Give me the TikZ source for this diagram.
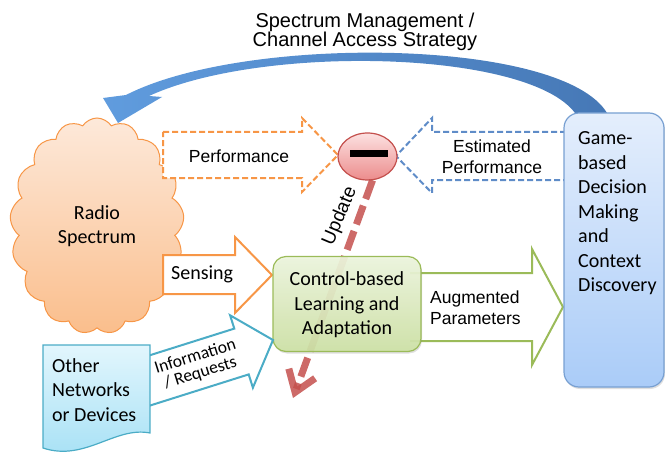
\documentclass[tikz,border=0pt]{standalone}
\usepackage{fontspec}
\setmainfont{Liberation Sans}
\newfontfamily\calf{Carlito}
\usetikzlibrary{shapes.symbols,shapes.geometric,arrows.meta,shadows}
\definecolor{orng}{RGB}{247,150,70}
\definecolor{bdash}{RGB}{95,140,200}
\definecolor{grn}{RGB}{155,187,89}
\definecolor{cyn}{RGB}{75,172,198}
\definecolor{updc}{RGB}{196,80,77}
\definecolor{cloudtop}{RGB}{253,233,218}
\definecolor{cloudbot}{RGB}{250,190,140}
\definecolor{gametop}{RGB}{228,238,252}
\definecolor{gamebot}{RGB}{170,204,248}
\definecolor{gameline}{RGB}{120,160,210}
\definecolor{ctltop}{RGB}{238,246,222}
\definecolor{ctlbot}{RGB}{205,226,165}
\definecolor{doctop}{RGB}{226,246,253}
\definecolor{docbot}{RGB}{165,224,245}
\definecolor{arcleft}{RGB}{96,156,222}
\definecolor{arcright}{RGB}{70,120,182}
\definecolor{circtop}{RGB}{252,225,225}
\definecolor{circbot}{RGB}{236,140,140}
\newcommand\arialtxt{\fontsize{17.5}{21}\selectfont}
\newcommand\titletxt{\fontsize{20}{19}\selectfont}
\newcommand\caltxt{\calf\fontsize{20}{24.5}\selectfont}
\newcommand\infotxt{\calf\fontsize{17.5}{17}\selectfont}
\tikzset{
  blockarrow/.style={fill=white, line width=2pt, line join=miter},
  dasharrow/.style={blockarrow, dash pattern=on 6pt off 3pt},
  lbl/.style={inner sep=0pt, font=\arialtxt, align=center},
  clbl/.style={inner sep=0pt, font=\caltxt},
  updline/.style={draw=updc, draw opacity=0.85, line width=7pt, dash pattern=on 20pt off 7pt},
}
\begin{document}
\begin{tikzpicture}[x=1pt,y=-1pt]
\useasboundingbox (0,0) rectangle (665,452);

% big curved arrow
\path[left color=arcleft, right color=arcright]
  (607,113) .. controls (562,38) and (245,34) .. (126,95)
  -- (103,98) -- (118,123) -- (162,97) -- (149,96)
  .. controls (262,44) and (528,50) .. (575,113) -- cycle;
\node[font=\titletxt, align=center, inner sep=0pt] (title) at (365,32)
  {Spectrum Management /\\Channel Access Strategy};

% cloud
\node[cloud, cloud puffs=17, cloud puff arc=115, cloud ignores aspect,
      minimum width=174pt, minimum height=216pt, draw=orng, line width=1pt,
      top color=cloudtop, bottom color=cloudbot, font=\caltxt, align=center]
      (radio) at (97,226) {Radio\\Spectrum};

% performance (dashed orange)
\draw[dasharrow, draw=orng] (163,132) -- (302,132) -- (302,118) -- (338,155)
  -- (302,192) -- (302,178) -- (163,178) -- cycle;
\node[lbl] (perf) at (239,156) {Performance};

% estimated performance (dashed blue)
\draw[dasharrow, draw=bdash] (566,132) -- (432,132) -- (432,118) -- (396,156)
  -- (432,193) -- (432,180) -- (566,180);
\node[lbl] (est) at (492,157) {Estimated\\Performance};

% sensing
\draw[blockarrow, draw=orng] (163,255) -- (235,255) -- (235,237) -- (272,275)
  -- (235,313) -- (235,294) -- (163,294) -- cycle;
\node[clbl, anchor=west] (sens) at (171,274) {Sensing};

% augmented parameters
\draw[blockarrow, draw=grn] (410,273) -- (532,273) -- (532,249) -- (563,307)
  -- (532,365) -- (532,341) -- (410,341);
\node[lbl, anchor=west, align=left] (aug) at (430,307.5) {Augmented\\Parameters};

% update line
\coordinate (updend) at (293,398);
\node[ellipse, minimum width=59pt, minimum height=47pt, inner sep=0pt,
      draw=updc, line width=1.2pt, top color=circtop, bottom color=circbot] (circ) at (367.5,156.5) {};
\draw[updline, -{Straight Barb[length=20pt,width=28pt]}] (circ.-78) -- (updend);
\node[fill=black, minimum width=38pt, minimum height=7pt, inner sep=0pt] (bar) at (369,153.5) {};
\node[inner sep=0pt, font=\fontsize{19}{19}\selectfont, rotate=67] (upd) at (340,216) {Update};

% control box
\node[draw=grn, line width=1.2pt, rounded corners=13pt, top color=ctltop, bottom color=ctlbot,
      fill opacity=0.92, minimum width=148pt, minimum height=95pt,
      drop shadow={opacity=0.25, shadow xshift=1pt, shadow yshift=-2pt}] (ctl) at (347,304) {};
\node[clbl, align=center] (ctltxt) at (347,305) {Control-based\\Learning and\\Adaptation};

% game box
\node[draw=gameline, line width=1.2pt, rounded corners=15pt, top color=gametop, bottom color=gamebot,
      minimum width=100pt, minimum height=274pt,
      drop shadow={opacity=0.25, shadow xshift=1pt, shadow yshift=-2pt}] (game) at (614,250) {};
\node[clbl, anchor=west, align=left] (gametxt) at (578,213.5)
  {Game-\\based\\Decision\\Making\\and\\Context\\Discovery};

% information / requests arrow
\draw[blockarrow, draw=cyn] (129.4,361.7) -- (234.3,328.6) -- (230.1,315.3) -- (273,340)
  -- (252.9,387.7) -- (248.7,374.4) -- (143.8,407.5) -- cycle;
\node[inner sep=0pt, font=\infotxt, align=center, rotate=17.5] (info) at (198,365)
  {Information\\/ Requests};

% other networks (document shape)
\path[draw=cyn, line width=1.2pt, top color=doctop, bottom color=docbot]
  (43,345) -- (150,345) -- (150,433)
  .. controls (115,426) and (85,462) .. (43,448) -- cycle;
\node[clbl, anchor=west, align=left] (other) at (52,390) {Other\\Networks\\or Devices};
\end{tikzpicture}
\end{document}
